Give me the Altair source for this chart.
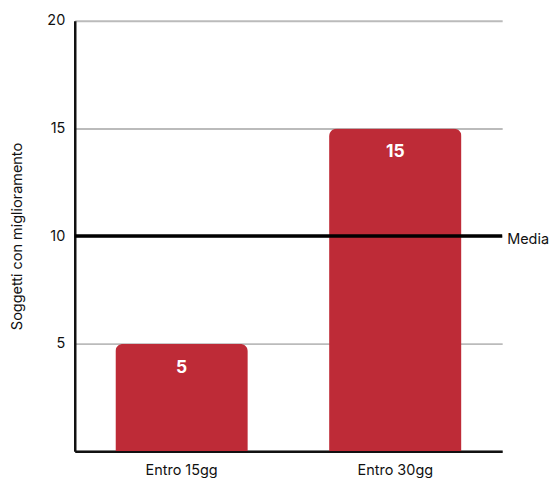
import altair as alt
import pandas as pd

categories = ["Entro 15gg", "Entro 30gg"]
values = [5, 15]
media_value = 10
media_label = "Media"
y_ticks = [0, 5, 10, 15, 20]

df = pd.DataFrame({"cat": categories, "val": values})
media_df = pd.DataFrame({"y": [media_value], "label": [media_label]})

FONT = "Inter"
RED = "#BE2B37"

x_enc = alt.X("cat:N", sort=categories, title=None,
              scale=alt.Scale(paddingInner=0.38, paddingOuter=0.19),
              axis=alt.Axis(labelAngle=0, labelFontSize=14.5, labelColor="#111",
                            labelFont=FONT, ticks=False, labelPadding=12,
                            domainColor="#111", domainWidth=2.5))
y_enc = alt.Y("val:Q", title="Soggetti con miglioramento",
              scale=alt.Scale(domain=[0, 20]),
              axis=alt.Axis(values=y_ticks, labelFontSize=14.5, labelColor="#111",
                            labelFont=FONT, ticks=False, labelPadding=10,
                            labelExpr="datum.value == 0 ? '' : datum.label",
                            grid=True, gridColor="#BBBBBB", gridWidth=2,
                            domainColor="#111", domainWidth=2.5,
                            titleFont=FONT, titleFontSize=14.5, titleFontWeight="normal",
                            titleColor="#111", titlePadding=22))

bars = alt.Chart(df).mark_bar(color=RED, cornerRadiusTopLeft=8,
                              cornerRadiusTopRight=8).encode(x=x_enc, y=y_enc)

labels = alt.Chart(df).mark_text(color="white", fontSize=17.5, fontWeight="bold",
                                 font=FONT, baseline="middle", dy=24).encode(
    x=alt.X("cat:N", sort=categories), y="val:Q", text="val:Q")

rule = alt.Chart(media_df).mark_rule(color="black", strokeWidth=3.5).encode(
    y="y:Q", x=alt.value(0), x2=alt.value(429))

media_text = alt.Chart(media_df).mark_text(align="left", baseline="middle",
                                           fontSize=14.5, font=FONT, color="#111",
                                           dx=5, dy=4).encode(
    y="y:Q", x=alt.value(429), text="label:N")

chart = (bars + labels + rule + media_text).properties(
    width=429, height=432,
    padding={"left": 2, "top": 4, "right": 0, "bottom": 0}
).configure_view(stroke=None).configure_axis(gridCap="butt")

chart.save("out.html", embed_options={"renderer": "svg", "actions": False})
